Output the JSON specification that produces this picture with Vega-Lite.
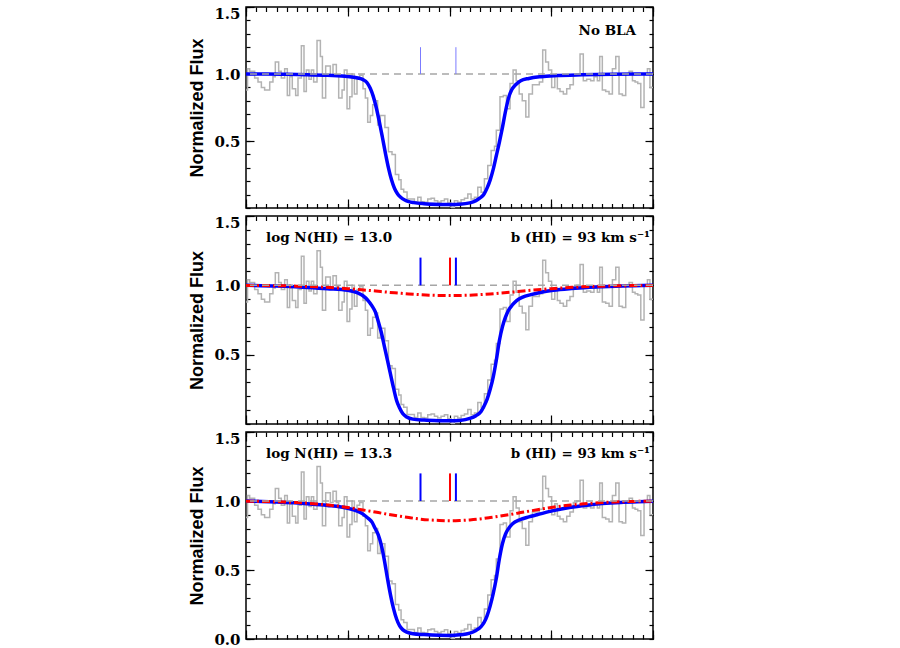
{
  "$schema": "https://vega.github.io/schema/vega-lite/v6.json",
  "background": "white",
  "padding": {"left": 188, "top": 5, "right": 5, "bottom": 5},
  "bounds": "flush",
  "spacing": 8,
  "config": {
    "view": {"stroke": "black", "strokeWidth": 1.5},
    "axis": {"domain": false, "grid": false, "tickColor": "black", "tickWidth": 1.2, "zindex": 1, "title": null, "labels": false}
  },
  "datasets": {
    "spectrum": [
      {"v": -200, "flux": 0.88}, {"v": -198.5, "flux": 1.04}, {"v": -196.4, "flux": 1.02}, {"v": -191.5, "flux": 0.97},
      {"v": -188.2, "flux": 0.94}, {"v": -184.9, "flux": 0.90}, {"v": -181.7, "flux": 0.88}, {"v": -176.7, "flux": 0.94},
      {"v": -173.5, "flux": 0.98}, {"v": -171.2, "flux": 1.09}, {"v": -167.9, "flux": 1.02}, {"v": -165.3, "flux": 0.97},
      {"v": -162, "flux": 1.04}, {"v": -159.4, "flux": 0.84}, {"v": -157.1, "flux": 0.98}, {"v": -154.5, "flux": 0.89},
      {"v": -151.2, "flux": 0.84}, {"v": -148.9, "flux": 0.97}, {"v": -145.6, "flux": 1.21}, {"v": -143, "flux": 0.87},
      {"v": -140.7, "flux": 1.03}, {"v": -138.1, "flux": 0.96}, {"v": -135.8, "flux": 1.03}, {"v": -133.5, "flux": 0.94},
      {"v": -130.2, "flux": 1.25}, {"v": -126.9, "flux": 1.13}, {"v": -124.9, "flux": 0.82}, {"v": -121.7, "flux": 1.06},
      {"v": -117.1, "flux": 0.99}, {"v": -114.5, "flux": 1.07}, {"v": -111.2, "flux": 0.99}, {"v": -108.9, "flux": 0.82},
      {"v": -105.6, "flux": 0.88}, {"v": -103.4, "flux": 1.03}, {"v": -100.7, "flux": 0.74}, {"v": -98.1, "flux": 0.83},
      {"v": -95.8, "flux": 1.0}, {"v": -93.5, "flux": 0.85}, {"v": -90.9, "flux": 0.97}, {"v": -88.3, "flux": 0.99},
      {"v": -85, "flux": 0.89}, {"v": -82.7, "flux": 0.82}, {"v": -80.4, "flux": 0.64}, {"v": -77.8, "flux": 0.69},
      {"v": -75.5, "flux": 0.77}, {"v": -72.9, "flux": 0.80}, {"v": -70.6, "flux": 0.62}, {"v": -68, "flux": 0.69},
      {"v": -63.5, "flux": 0.60}, {"v": -60, "flux": 0.42}, {"v": -56.5, "flux": 0.40}, {"v": -53.2, "flux": 0.25},
      {"v": -49.9, "flux": 0.21}, {"v": -47.6, "flux": 0.14}, {"v": -45, "flux": 0.12}, {"v": -41.7, "flux": 0.068},
      {"v": -34.5, "flux": 0.047}, {"v": -31.2, "flux": 0.08}, {"v": -28, "flux": 0.047}, {"v": -24.7, "flux": 0.043},
      {"v": -21.4, "flux": 0.067}, {"v": -18.1, "flux": 0.073}, {"v": -14.8, "flux": 0.055}, {"v": -11.6, "flux": 0.043},
      {"v": -8.3, "flux": 0.055}, {"v": -5, "flux": 0.067}, {"v": -1.7, "flux": 0.037}, {"v": 1.5, "flux": 0.005},
      {"v": 4.8, "flux": 0.055}, {"v": 8.1, "flux": 0.043}, {"v": 11.4, "flux": 0.062}, {"v": 14.7, "flux": 0.073},
      {"v": 18, "flux": 0.105}, {"v": 21.2, "flux": 0.067}, {"v": 24.5, "flux": 0.08}, {"v": 27.8, "flux": 0.155},
      {"v": 31.1, "flux": 0.117}, {"v": 34.3, "flux": 0.218}, {"v": 37.6, "flux": 0.318}, {"v": 40.9, "flux": 0.43},
      {"v": 44.2, "flux": 0.46}, {"v": 46, "flux": 0.58}, {"v": 49.6, "flux": 0.83}, {"v": 52.9, "flux": 0.84},
      {"v": 56, "flux": 0.74}, {"v": 59.5, "flux": 0.93}, {"v": 62.5, "flux": 1.03}, {"v": 65.5, "flux": 0.95},
      {"v": 68.5, "flux": 0.85}, {"v": 71.5, "flux": 0.80}, {"v": 75, "flux": 0.68}, {"v": 78, "flux": 0.85},
      {"v": 81.5, "flux": 0.92}, {"v": 85, "flux": 0.92}, {"v": 88.3, "flux": 0.94}, {"v": 91.6, "flux": 1.18},
      {"v": 94.5, "flux": 1.09}, {"v": 97.3, "flux": 1.03}, {"v": 100.4, "flux": 0.90}, {"v": 103.5, "flux": 0.98},
      {"v": 106, "flux": 0.89}, {"v": 108.6, "flux": 0.87}, {"v": 111.9, "flux": 0.85}, {"v": 115.2, "flux": 0.89},
      {"v": 118.4, "flux": 0.92}, {"v": 121.7, "flux": 0.99}, {"v": 125, "flux": 1.0}, {"v": 128.3, "flux": 1.15},
      {"v": 131.5, "flux": 0.95}, {"v": 134.8, "flux": 0.96}, {"v": 138.7, "flux": 0.95}, {"v": 142, "flux": 0.98},
      {"v": 145.3, "flux": 0.95}, {"v": 147.6, "flux": 1.13}, {"v": 150.2, "flux": 0.88}, {"v": 153.5, "flux": 0.87},
      {"v": 156.8, "flux": 0.85}, {"v": 160.1, "flux": 1.04}, {"v": 163.4, "flux": 1.13}, {"v": 166.6, "flux": 0.85},
      {"v": 169.9, "flux": 0.84}, {"v": 173.2, "flux": 1.0}, {"v": 176.5, "flux": 1.02}, {"v": 179.8, "flux": 0.95},
      {"v": 182.4, "flux": 0.94}, {"v": 185, "flux": 0.93}, {"v": 188, "flux": 0.75}, {"v": 191.2, "flux": 1.0},
      {"v": 194.5, "flux": 1.04}, {"v": 197, "flux": 0.90}, {"v": 200, "flux": 0.90}
    ],
    "total1": [
      {"v": -200, "flux": 1.0}, {"v": -180, "flux": 1.0}, {"v": -160, "flux": 0.998}, {"v": -140, "flux": 0.995},
      {"v": -120, "flux": 0.99}, {"v": -100, "flux": 0.982}, {"v": -90, "flux": 0.97}, {"v": -85, "flux": 0.958},
      {"v": -81, "flux": 0.935}, {"v": -78, "flux": 0.895}, {"v": -75, "flux": 0.835}, {"v": -72, "flux": 0.75},
      {"v": -69, "flux": 0.645}, {"v": -66, "flux": 0.53}, {"v": -63, "flux": 0.41}, {"v": -60, "flux": 0.30},
      {"v": -57, "flux": 0.21}, {"v": -54, "flux": 0.145}, {"v": -51, "flux": 0.105}, {"v": -48, "flux": 0.08},
      {"v": -44, "flux": 0.06}, {"v": -40, "flux": 0.048}, {"v": -35, "flux": 0.04}, {"v": -25, "flux": 0.032},
      {"v": -10, "flux": 0.027}, {"v": 0, "flux": 0.026}, {"v": 10, "flux": 0.028}, {"v": 20, "flux": 0.038},
      {"v": 26, "flux": 0.055}, {"v": 30, "flux": 0.075}, {"v": 34, "flux": 0.105}, {"v": 37, "flux": 0.15},
      {"v": 40, "flux": 0.21}, {"v": 43, "flux": 0.29}, {"v": 46, "flux": 0.39}, {"v": 49, "flux": 0.49},
      {"v": 52, "flux": 0.60}, {"v": 55, "flux": 0.72}, {"v": 58, "flux": 0.82}, {"v": 61, "flux": 0.88},
      {"v": 65, "flux": 0.92}, {"v": 70, "flux": 0.95}, {"v": 78, "flux": 0.967}, {"v": 90, "flux": 0.98},
      {"v": 105, "flux": 0.988}, {"v": 130, "flux": 0.994}, {"v": 160, "flux": 0.998}, {"v": 200, "flux": 1.0}
    ],
    "total2": [
      {"v": -200, "flux": 1.0}, {"v": -170, "flux": 0.995}, {"v": -140, "flux": 0.985}, {"v": -120, "flux": 0.976},
      {"v": -100, "flux": 0.964}, {"v": -90, "flux": 0.945}, {"v": -85, "flux": 0.925}, {"v": -80, "flux": 0.89},
      {"v": -76, "flux": 0.85}, {"v": -73, "flux": 0.81}, {"v": -70, "flux": 0.74}, {"v": -67, "flux": 0.66},
      {"v": -64, "flux": 0.56}, {"v": -61, "flux": 0.46}, {"v": -58, "flux": 0.36}, {"v": -55, "flux": 0.26},
      {"v": -52, "flux": 0.17}, {"v": -49, "flux": 0.115}, {"v": -46, "flux": 0.075}, {"v": -42, "flux": 0.05},
      {"v": -36, "flux": 0.035}, {"v": -25, "flux": 0.028}, {"v": -10, "flux": 0.024}, {"v": 0, "flux": 0.023},
      {"v": 10, "flux": 0.026}, {"v": 20, "flux": 0.04}, {"v": 26, "flux": 0.06}, {"v": 31, "flux": 0.09},
      {"v": 34, "flux": 0.13}, {"v": 37, "flux": 0.18}, {"v": 40, "flux": 0.25}, {"v": 43, "flux": 0.34},
      {"v": 46, "flux": 0.46}, {"v": 49, "flux": 0.6}, {"v": 52, "flux": 0.7}, {"v": 55, "flux": 0.77},
      {"v": 58, "flux": 0.82}, {"v": 62, "flux": 0.86}, {"v": 66, "flux": 0.89}, {"v": 72, "flux": 0.915},
      {"v": 80, "flux": 0.933}, {"v": 90, "flux": 0.95}, {"v": 102, "flux": 0.964}, {"v": 120, "flux": 0.977},
      {"v": 135, "flux": 0.985}, {"v": 150, "flux": 0.99}, {"v": 170, "flux": 0.995}, {"v": 200, "flux": 1.0}
    ],
    "total3": [
      {"v": -200, "flux": 1.0}, {"v": -170, "flux": 0.992}, {"v": -140, "flux": 0.98}, {"v": -120, "flux": 0.968},
      {"v": -100, "flux": 0.947}, {"v": -90, "flux": 0.925}, {"v": -85, "flux": 0.905}, {"v": -80, "flux": 0.875},
      {"v": -76, "flux": 0.845}, {"v": -73, "flux": 0.80}, {"v": -70, "flux": 0.755}, {"v": -67, "flux": 0.68},
      {"v": -64, "flux": 0.57}, {"v": -61, "flux": 0.44}, {"v": -58, "flux": 0.32}, {"v": -55, "flux": 0.22},
      {"v": -52, "flux": 0.145}, {"v": -49, "flux": 0.095}, {"v": -46, "flux": 0.068}, {"v": -42, "flux": 0.05},
      {"v": -36, "flux": 0.038}, {"v": -25, "flux": 0.032}, {"v": -10, "flux": 0.027}, {"v": 0, "flux": 0.026},
      {"v": 10, "flux": 0.03}, {"v": 20, "flux": 0.042}, {"v": 26, "flux": 0.062}, {"v": 31, "flux": 0.09},
      {"v": 34, "flux": 0.12}, {"v": 37, "flux": 0.17}, {"v": 40, "flux": 0.24}, {"v": 43, "flux": 0.33},
      {"v": 46, "flux": 0.44}, {"v": 49, "flux": 0.58}, {"v": 52, "flux": 0.69}, {"v": 55, "flux": 0.76},
      {"v": 58, "flux": 0.80}, {"v": 62, "flux": 0.835}, {"v": 69, "flux": 0.864}, {"v": 78, "flux": 0.885},
      {"v": 86, "flux": 0.90}, {"v": 102, "flux": 0.93}, {"v": 118, "flux": 0.953}, {"v": 135, "flux": 0.97},
      {"v": 150, "flux": 0.981}, {"v": 168, "flux": 0.99}, {"v": 185, "flux": 0.995}, {"v": 200, "flux": 0.998}
    ],
    "bla2": [
      {"v": -200, "flux": 0.999}, {"v": -190, "flux": 0.999}, {"v": -180, "flux": 0.998}, {"v": -170, "flux": 0.997},
      {"v": -160, "flux": 0.996}, {"v": -150, "flux": 0.994}, {"v": -140, "flux": 0.992}, {"v": -130, "flux": 0.989},
      {"v": -120, "flux": 0.986}, {"v": -110, "flux": 0.981}, {"v": -100, "flux": 0.976}, {"v": -90, "flux": 0.970},
      {"v": -80, "flux": 0.964}, {"v": -70, "flux": 0.957}, {"v": -60, "flux": 0.950}, {"v": -50, "flux": 0.944},
      {"v": -40, "flux": 0.938}, {"v": -30, "flux": 0.933}, {"v": -20, "flux": 0.929}, {"v": -10, "flux": 0.927},
      {"v": 0, "flux": 0.926}, {"v": 10, "flux": 0.927}, {"v": 20, "flux": 0.929}, {"v": 30, "flux": 0.933},
      {"v": 40, "flux": 0.938}, {"v": 50, "flux": 0.944}, {"v": 60, "flux": 0.950}, {"v": 70, "flux": 0.957},
      {"v": 80, "flux": 0.964}, {"v": 90, "flux": 0.970}, {"v": 100, "flux": 0.976}, {"v": 110, "flux": 0.981},
      {"v": 120, "flux": 0.986}, {"v": 130, "flux": 0.989}, {"v": 140, "flux": 0.992}, {"v": 150, "flux": 0.994},
      {"v": 160, "flux": 0.996}, {"v": 170, "flux": 0.997}, {"v": 180, "flux": 0.998}, {"v": 190, "flux": 0.999},
      {"v": 200, "flux": 0.999}
    ],
    "bla3": [
      {"v": -200, "flux": 0.998}, {"v": -190, "flux": 0.998}, {"v": -180, "flux": 0.996}, {"v": -170, "flux": 0.995},
      {"v": -160, "flux": 0.992}, {"v": -150, "flux": 0.989}, {"v": -140, "flux": 0.984}, {"v": -130, "flux": 0.978},
      {"v": -120, "flux": 0.971}, {"v": -110, "flux": 0.963}, {"v": -100, "flux": 0.953}, {"v": -90, "flux": 0.941},
      {"v": -80, "flux": 0.929}, {"v": -70, "flux": 0.916}, {"v": -60, "flux": 0.903}, {"v": -50, "flux": 0.891},
      {"v": -40, "flux": 0.880}, {"v": -30, "flux": 0.870}, {"v": -20, "flux": 0.863}, {"v": -10, "flux": 0.859},
      {"v": 0, "flux": 0.857}, {"v": 10, "flux": 0.859}, {"v": 20, "flux": 0.863}, {"v": 30, "flux": 0.870},
      {"v": 40, "flux": 0.880}, {"v": 50, "flux": 0.891}, {"v": 60, "flux": 0.903}, {"v": 70, "flux": 0.916},
      {"v": 80, "flux": 0.929}, {"v": 90, "flux": 0.941}, {"v": 100, "flux": 0.953}, {"v": 110, "flux": 0.963},
      {"v": 120, "flux": 0.971}, {"v": 130, "flux": 0.978}, {"v": 140, "flux": 0.984}, {"v": 150, "flux": 0.989},
      {"v": 160, "flux": 0.992}, {"v": 170, "flux": 0.995}, {"v": 180, "flux": 0.996}, {"v": 190, "flux": 0.998},
      {"v": 200, "flux": 0.998}
    ],
    "continuum": [{"flux": 1.0}],
    "markers": [
      {"panel": 1, "v": -28.5, "component": "narrow"}, {"panel": 1, "v": 6.3, "component": "narrow"},
      {"panel": 2, "v": -28.5, "component": "narrow"}, {"panel": 2, "v": 0.5, "component": "broad"}, {"panel": 2, "v": 6.3, "component": "narrow"},
      {"panel": 3, "v": -28.5, "component": "narrow"}, {"panel": 3, "v": 0.5, "component": "broad"}, {"panel": 3, "v": 6.3, "component": "narrow"}
    ],
    "notes": [
      {"panel": 1, "side": "right", "note": "No BLA"},
      {"panel": 2, "side": "left", "note": "log N(HI) = 13.0"},
      {"panel": 2, "side": "right", "note": "b (HI) = 93 km s⁻¹"},
      {"panel": 3, "side": "left", "note": "log N(HI) = 13.3"},
      {"panel": 3, "side": "right", "note": "b (HI) = 93 km s⁻¹"}
    ]
  },
  "vconcat": [
    {
      "width": 407, "height": 201,
      "resolve": {"axis": {"x": "independent", "y": "independent"}},
      "layer": [
        {"data": {"name": "spectrum"},
         "mark": {"type": "line", "interpolate": "step-after", "color": "#b3b3b3", "strokeWidth": 1.5},
         "encoding": {
           "x": {"field": "v", "type": "quantitative", "scale": {"domain": [-200, 200], "nice": false, "zero": false},
                 "axis": {"orient": "bottom", "values": [-200, -100, 0, 100, 200], "tickSize": -9}},
           "y": {"field": "flux", "type": "quantitative", "scale": {"domain": [0, 1.5], "nice": false},
                 "axis": {"orient": "left", "values": [0.5, 1, 1.5], "tickSize": -8, "labels": true, "labelPadding": 14, "format": ".1f",
                          "labelFont": "DejaVu Serif", "labelFontWeight": "bold", "labelFontSize": 15, "labelColor": "black",
                          "labelOffset": {"condition": {"test": "datum.value == 1.5", "value": 6}, "value": 0},
                          "title": "Normalized Flux", "titleFont": "Liberation Sans", "titleFontWeight": "bold", "titleFontSize": 18, "titleColor": "black", "titlePadding": 7}}
         }},
        {"data": {"name": "total1"},
         "mark": {"type": "line", "interpolate": "monotone", "color": "#0000ff", "strokeWidth": 3.5},
         "encoding": {
           "x": {"field": "v", "type": "quantitative", "axis": {"orient": "top", "values": [-200, -100, 0, 100, 200], "tickSize": -9}},
           "y": {"field": "flux", "type": "quantitative", "axis": {"orient": "right", "values": [0.5, 1, 1.5], "tickSize": -8}}
         }},
        {"data": {"name": "continuum"},
         "mark": {"type": "rule", "color": "#a6a6a6", "strokeWidth": 1.5, "strokeDash": [7, 5]},
         "encoding": {"y": {"field": "flux", "type": "quantitative", "axis": null}}},
        {"data": {"name": "markers"}, "transform": [{"filter": "datum.panel == 1"}],
         "mark": {"type": "rule", "color": "#7b7bff", "strokeWidth": 1},
         "encoding": {
           "x": {"field": "v", "type": "quantitative", "axis": {"orient": "bottom", "values": [-200,-190,-180,-170,-160,-150,-140,-130,-120,-110,-100,-90,-80,-70,-60,-50,-40,-30,-20,-10,0,10,20,30,40,50,60,70,80,90,100,110,120,130,140,150,160,170,180,190,200], "tickSize": -4.5}},
           "y": {"datum": 1, "axis": {"orient": "left", "values": [0,0.1,0.2,0.3,0.4,0.5,0.6,0.7,0.8,0.9,1,1.1,1.2,1.3,1.4,1.5], "tickSize": -4}},
           "y2": {"datum": 1.2}
         }},
        {"data": {"name": "notes"}, "transform": [{"filter": "datum.panel == 1"}],
         "mark": {"type": "text", "align": "right", "baseline": "middle", "font": "DejaVu Serif", "fontWeight": "bold", "fontSize": 13.5, "color": "black"},
         "encoding": {
           "text": {"field": "note"},
           "x": {"datum": 183.3, "axis": {"orient": "top", "values": [-200,-190,-180,-170,-160,-150,-140,-130,-120,-110,-100,-90,-80,-70,-60,-50,-40,-30,-20,-10,0,10,20,30,40,50,60,70,80,90,100,110,120,130,140,150,160,170,180,190,200], "tickSize": -4.5}},
           "y": {"datum": 1.32, "axis": {"orient": "right", "values": [0,0.1,0.2,0.3,0.4,0.5,0.6,0.7,0.8,0.9,1,1.1,1.2,1.3,1.4,1.5], "tickSize": -4}}
         }}
      ]
    },
    {
      "width": 407, "height": 208,
      "resolve": {"axis": {"x": "independent", "y": "independent"}},
      "layer": [
        {"data": {"name": "spectrum"},
         "mark": {"type": "line", "interpolate": "step-after", "color": "#b3b3b3", "strokeWidth": 1.5},
         "encoding": {
           "x": {"field": "v", "type": "quantitative", "scale": {"domain": [-200, 200], "nice": false, "zero": false},
                 "axis": {"orient": "bottom", "values": [-200, -100, 0, 100, 200], "tickSize": -9}},
           "y": {"field": "flux", "type": "quantitative", "scale": {"domain": [0, 1.5], "nice": false},
                 "axis": {"orient": "left", "values": [0.5, 1, 1.5], "tickSize": -8, "labels": true, "labelPadding": 14, "format": ".1f",
                          "labelFont": "DejaVu Serif", "labelFontWeight": "bold", "labelFontSize": 15, "labelColor": "black",
                          "labelOffset": {"condition": {"test": "datum.value == 1.5", "value": 6}, "value": 0},
                          "title": "Normalized Flux", "titleFont": "Liberation Sans", "titleFontWeight": "bold", "titleFontSize": 18, "titleColor": "black", "titlePadding": 7}}
         }},
        {"data": {"name": "total2"},
         "mark": {"type": "line", "interpolate": "monotone", "color": "#0000ff", "strokeWidth": 3.5},
         "encoding": {
           "x": {"field": "v", "type": "quantitative", "axis": {"orient": "top", "values": [-200, -100, 0, 100, 200], "tickSize": -9}},
           "y": {"field": "flux", "type": "quantitative", "axis": {"orient": "right", "values": [0.5, 1, 1.5], "tickSize": -8}}
         }},
        {"data": {"name": "bla2"},
         "mark": {"type": "line", "interpolate": "monotone", "color": "#ff0000", "strokeWidth": 3, "strokeDash": [8, 3, 2, 3]},
         "encoding": {
           "x": {"field": "v", "type": "quantitative", "axis": null},
           "y": {"field": "flux", "type": "quantitative", "axis": null}
         }},
        {"data": {"name": "continuum"},
         "mark": {"type": "rule", "color": "#a6a6a6", "strokeWidth": 1.5, "strokeDash": [7, 5]},
         "encoding": {"y": {"field": "flux", "type": "quantitative", "axis": null}}},
        {"data": {"name": "markers"}, "transform": [{"filter": "datum.panel == 2"}],
         "mark": {"type": "rule", "strokeWidth": 2},
         "encoding": {
           "x": {"field": "v", "type": "quantitative", "axis": {"orient": "bottom", "values": [-200,-190,-180,-170,-160,-150,-140,-130,-120,-110,-100,-90,-80,-70,-60,-50,-40,-30,-20,-10,0,10,20,30,40,50,60,70,80,90,100,110,120,130,140,150,160,170,180,190,200], "tickSize": -4.5}},
           "y": {"datum": 1, "axis": {"orient": "left", "values": [0,0.1,0.2,0.3,0.4,0.5,0.6,0.7,0.8,0.9,1,1.1,1.2,1.3,1.4,1.5], "tickSize": -4}},
           "y2": {"datum": 1.2},
           "color": {"field": "component", "type": "nominal", "scale": {"domain": ["narrow", "broad"], "range": ["#0000ff", "#ff0000"]}, "legend": null}
         }},
        {"data": {"name": "notes"}, "transform": [{"filter": "datum.panel == 2 && datum.side == 'left'"}],
         "mark": {"type": "text", "align": "left", "baseline": "middle", "font": "DejaVu Serif", "fontWeight": "bold", "fontSize": 13.5, "color": "black"},
         "encoding": {
           "text": {"field": "note"},
           "x": {"datum": -180.3, "axis": {"orient": "top", "values": [-200,-190,-180,-170,-160,-150,-140,-130,-120,-110,-100,-90,-80,-70,-60,-50,-40,-30,-20,-10,0,10,20,30,40,50,60,70,80,90,100,110,120,130,140,150,160,170,180,190,200], "tickSize": -4.5}},
           "y": {"datum": 1.34, "axis": {"orient": "right", "values": [0,0.1,0.2,0.3,0.4,0.5,0.6,0.7,0.8,0.9,1,1.1,1.2,1.3,1.4,1.5], "tickSize": -4}}
         }},
        {"data": {"name": "notes"}, "transform": [{"filter": "datum.panel == 2 && datum.side == 'right'"}],
         "mark": {"type": "text", "align": "right", "baseline": "middle", "font": "DejaVu Serif", "fontWeight": "bold", "fontSize": 13.5, "color": "black"},
         "encoding": {
           "text": {"field": "note"},
           "x": {"datum": 197, "axis": null},
           "y": {"datum": 1.34, "axis": null}
         }}
      ]
    },
    {
      "width": 407, "height": 207,
      "resolve": {"axis": {"x": "independent", "y": "independent"}},
      "layer": [
        {"data": {"name": "spectrum"},
         "mark": {"type": "line", "interpolate": "step-after", "color": "#b3b3b3", "strokeWidth": 1.5},
         "encoding": {
           "x": {"field": "v", "type": "quantitative", "scale": {"domain": [-200, 200], "nice": false, "zero": false},
                 "axis": {"orient": "bottom", "values": [-200, -100, 0, 100, 200], "tickSize": -9}},
           "y": {"field": "flux", "type": "quantitative", "scale": {"domain": [0, 1.5], "nice": false},
                 "axis": {"orient": "left", "values": [0, 0.5, 1, 1.5], "tickSize": -8, "labels": true, "labelPadding": 14, "format": ".1f",
                          "labelFont": "DejaVu Serif", "labelFontWeight": "bold", "labelFontSize": 15, "labelColor": "black",
                          "labelOffset": {"condition": {"test": "datum.value == 1.5", "value": 6}, "value": 0},
                          "title": "Normalized Flux", "titleFont": "Liberation Sans", "titleFontWeight": "bold", "titleFontSize": 18, "titleColor": "black", "titlePadding": 7}}
         }},
        {"data": {"name": "total3"},
         "mark": {"type": "line", "interpolate": "monotone", "color": "#0000ff", "strokeWidth": 3.5},
         "encoding": {
           "x": {"field": "v", "type": "quantitative", "axis": {"orient": "top", "values": [-200, -100, 0, 100, 200], "tickSize": -9}},
           "y": {"field": "flux", "type": "quantitative", "axis": {"orient": "right", "values": [0.5, 1, 1.5], "tickSize": -8}}
         }},
        {"data": {"name": "bla3"},
         "mark": {"type": "line", "interpolate": "monotone", "color": "#ff0000", "strokeWidth": 3, "strokeDash": [8, 3, 2, 3]},
         "encoding": {
           "x": {"field": "v", "type": "quantitative", "axis": null},
           "y": {"field": "flux", "type": "quantitative", "axis": null}
         }},
        {"data": {"name": "continuum"},
         "mark": {"type": "rule", "color": "#a6a6a6", "strokeWidth": 1.5, "strokeDash": [7, 5]},
         "encoding": {"y": {"field": "flux", "type": "quantitative", "axis": null}}},
        {"data": {"name": "markers"}, "transform": [{"filter": "datum.panel == 3"}],
         "mark": {"type": "rule", "strokeWidth": 2},
         "encoding": {
           "x": {"field": "v", "type": "quantitative", "axis": {"orient": "bottom", "values": [-200,-190,-180,-170,-160,-150,-140,-130,-120,-110,-100,-90,-80,-70,-60,-50,-40,-30,-20,-10,0,10,20,30,40,50,60,70,80,90,100,110,120,130,140,150,160,170,180,190,200], "tickSize": -4.5}},
           "y": {"datum": 1, "axis": {"orient": "left", "values": [0,0.1,0.2,0.3,0.4,0.5,0.6,0.7,0.8,0.9,1,1.1,1.2,1.3,1.4,1.5], "tickSize": -4}},
           "y2": {"datum": 1.2},
           "color": {"field": "component", "type": "nominal", "scale": {"domain": ["narrow", "broad"], "range": ["#0000ff", "#ff0000"]}, "legend": null}
         }},
        {"data": {"name": "notes"}, "transform": [{"filter": "datum.panel == 3 && datum.side == 'left'"}],
         "mark": {"type": "text", "align": "left", "baseline": "middle", "font": "DejaVu Serif", "fontWeight": "bold", "fontSize": 13.5, "color": "black"},
         "encoding": {
           "text": {"field": "note"},
           "x": {"datum": -180.3, "axis": {"orient": "top", "values": [-200,-190,-180,-170,-160,-150,-140,-130,-120,-110,-100,-90,-80,-70,-60,-50,-40,-30,-20,-10,0,10,20,30,40,50,60,70,80,90,100,110,120,130,140,150,160,170,180,190,200], "tickSize": -4.5}},
           "y": {"datum": 1.34, "axis": {"orient": "right", "values": [0,0.1,0.2,0.3,0.4,0.5,0.6,0.7,0.8,0.9,1,1.1,1.2,1.3,1.4,1.5], "tickSize": -4}}
         }},
        {"data": {"name": "notes"}, "transform": [{"filter": "datum.panel == 3 && datum.side == 'right'"}],
         "mark": {"type": "text", "align": "right", "baseline": "middle", "font": "DejaVu Serif", "fontWeight": "bold", "fontSize": 13.5, "color": "black"},
         "encoding": {
           "text": {"field": "note"},
           "x": {"datum": 197, "axis": null},
           "y": {"datum": 1.34, "axis": null}
         }}
      ]
    }
  ]
}
